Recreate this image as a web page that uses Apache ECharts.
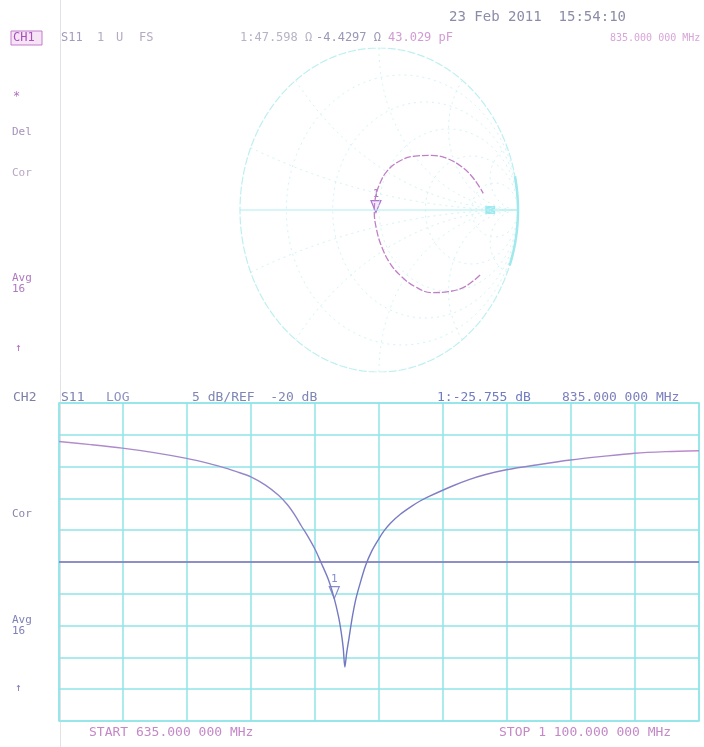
<!DOCTYPE html>
<html>
<head>
<meta charset="utf-8">
<script src="https://cdn.jsdelivr.net/npm/echarts@6/dist/echarts.min.js"></script>
<style>
  html, body { margin: 0; padding: 0; background: #fff; }
  #chart { width: 704px; height: 747px; }
</style>
</head>
<body>
<div id="chart"></div>
<script>
// CH2 log magnitude trace (MHz, dB)
const freqMHz = [635, 658, 681, 704, 727.7, 740, 752.4, 764, 774.4, 785, 794.5, 801, 806.6, 811, 815.6, 821, 825.2, 830.7, 835, 838.1, 840, 841.5, 842.7, 844, 845.7, 848, 850.5, 853.2, 857.7, 862.3, 867.4, 871, 875.8, 883, 890.8, 897, 904.3, 920.9, 932.9, 945, 960, 983, 1006.6, 1030, 1053.3, 1076, 1100];
const logMagDb = [-1.06, -1.55, -2.1, -2.8, -3.7, -4.3, -5.0, -5.8, -6.6, -7.9, -9.5, -11.0, -12.7, -14.3, -15.9, -18.0, -20.0, -22.75, -25.755, -28.6, -31.0, -33.5, -36.5, -34.3, -32.0, -28.8, -26.0, -23.8, -20.6, -18.25, -16.35, -15.15, -13.9, -12.5, -11.3, -10.45, -9.65, -8.05, -7.05, -6.25, -5.5, -4.7, -3.97, -3.4, -2.9, -2.65, -2.5];

// CH1 Smith trace, reflection coefficient
const gammaRe = [0.727, 0.619, 0.499, 0.379, 0.259, 0.163, 0.079, 0.019, -0.017, -0.034, -0.024, 0.007, 0.055, 0.139, 0.259, 0.379, 0.487, 0.595, 0.679, 0.750];
const gammaIm = [-0.401, -0.473, -0.504, -0.510, -0.473, -0.412, -0.329, -0.226, -0.123, -0.010, 0.082, 0.165, 0.237, 0.298, 0.333, 0.337, 0.319, 0.267, 0.196, 0.103];

// marker 1
const markerFreq = 835;
const markerDb = -25.755;
const markerGamma = [-0.022, -0.01];

// graticule
const smithR = [0.2, 0.5, 1, 2, 5];
const smithX = [0.2, 0.5, 1, 2, 5, -0.2, -0.5, -1, -2, -5];
const xDivs = 10;
const refDb = -20;
const yMin = -45, yMax = 5, yStep = 5;

const cyan = '#8fe4e8';
const faint = '#d2f4f5';

function gamma(r, x) {
  const d = (r + 1) * (r + 1) + x * x;
  return [(r * r + x * x - 1) / d, (2 * x) / d];
}
function rCircle(r) {
  const pts = [];
  for (let i = 0; i <= 200; i++) {
    const t = -Math.PI / 2 + 0.0005 + (Math.PI - 0.001) * i / 200;
    pts.push(gamma(r, Math.tan(t)));
  }
  pts.push([1, 0]);
  return pts;
}
function xArc(x) {
  const pts = [];
  for (let i = 0; i <= 150; i++) {
    const t = (Math.PI / 2 - 0.001) * i / 150;
    pts.push(gamma(Math.tan(t), x));
  }
  pts.push([1, 0]);
  return pts;
}
function arc(a0, a1) {
  const pts = [];
  for (let a = a0; a <= a1; a++) {
    pts.push([Math.cos(a * Math.PI / 180), Math.sin(a * Math.PI / 180)]);
  }
  return pts;
}

const smithGrid = [];
function gridLine(data, color, width, type) {
  smithGrid.push({
    type: 'line', xAxisIndex: 0, yAxisIndex: 0, data: data, showSymbol: false, silent: true,
    lineStyle: { color: color, width: width, type: type || 'solid' }
  });
}
smithR.forEach(r => gridLine(rCircle(r), faint, 1, [2, 4]));
smithX.forEach(x => gridLine(xArc(x), faint, 1, [2, 4]));
gridLine(arc(0, 360), '#bdeff1', 1.2, [8, 2]);
gridLine(arc(-20, 12), '#9fe8ec', 2.5);
gridLine([[-1, 0], [1, 0]], '#b0edf0', 1.2);

const font = '"DejaVu Sans Mono", monospace';
function txt(text, x, y, fill, size) {
  return { type: 'text', x: x, y: y, silent: true,
    style: { text: text, fill: fill, font: (size || 12) + 'px ' + font, verticalAlign: 'middle' } };
}

const chart = echarts.init(document.getElementById('chart'));
chart.setOption({
  backgroundColor: '#fff',
  animation: false,
  grid: [
    { left: 240, top: 48, width: 278, height: 324 },
    { left: 59, top: 403, width: 640, height: 318, show: true, borderColor: cyan, borderWidth: 1.5 }
  ],
  xAxis: [
    { gridIndex: 0, type: 'value', min: -1, max: 1, show: false },
    { gridIndex: 1, type: 'value', min: 0, max: xDivs, interval: 1,
      axisLine: { show: false }, axisTick: { show: false }, axisLabel: { show: false },
      splitLine: { show: true, lineStyle: { color: cyan, width: 1.5 } } },
    { gridIndex: 1, type: 'value', min: freqMHz[0], max: freqMHz[freqMHz.length - 1], show: false }
  ],
  yAxis: [
    { gridIndex: 0, type: 'value', min: -1, max: 1, show: false },
    { gridIndex: 1, type: 'value', min: yMin, max: yMax, interval: yStep,
      axisLine: { show: false }, axisTick: { show: false }, axisLabel: { show: false },
      splitLine: { show: true, lineStyle: { color: cyan, width: 1.5 } } }
  ],
  series: smithGrid.concat([
    {
      type: 'scatter', xAxisIndex: 0, yAxisIndex: 0, data: [[0.8, 0]], silent: true,
      symbol: 'rect', symbolSize: [10, 8], itemStyle: { color: '#7fe4ec' }
    },
    {
      type: 'line', xAxisIndex: 0, yAxisIndex: 0, silent: true, showSymbol: false, smooth: 0.4,
      data: gammaRe.map((v, i) => [v, gammaIm[i]]),
      lineStyle: { color: '#c07ec8', width: 1.3, type: [7, 2] }
    },
    {
      type: 'scatter', xAxisIndex: 0, yAxisIndex: 0, silent: true, data: [markerGamma],
      symbol: 'triangle', symbolRotate: 180, symbolSize: [10, 12], symbolOffset: [0, -5],
      itemStyle: { color: '#f3e3f6', borderColor: '#9158c0', borderWidth: 1.2 },
      label: { show: true, position: 'top', distance: 1, formatter: '1', color: '#8a5ab8', fontSize: 10, fontFamily: font }
    },
    {
      type: 'line', xAxisIndex: 2, yAxisIndex: 1, silent: true, showSymbol: false, smooth: 0.3,
      data: freqMHz.map((f, i) => [f, logMagDb[i]]),
      lineStyle: {
        width: 1.4,
        color: new echarts.graphic.LinearGradient(0, 0, 1, 0, [
          { offset: 0, color: '#b88ccb' },
          { offset: 0.35, color: '#8f86c8' },
          { offset: 0.45, color: '#6f78c2' },
          { offset: 0.55, color: '#7a7cc4' },
          { offset: 1, color: '#bf8ccc' }
        ])
      },
      markLine: {
        silent: true, symbol: 'none', label: { show: false },
        lineStyle: { color: '#8470b8', width: 1.6, type: 'solid' },
        data: [{ yAxis: refDb }]
      }
    },
    {
      type: 'scatter', xAxisIndex: 2, yAxisIndex: 1, silent: true, data: [[markerFreq, markerDb]],
      symbol: 'triangle', symbolRotate: 180, symbolSize: [10, 12], symbolOffset: [0, -6],
      itemStyle: { color: '#ffffff', borderColor: '#6670bd', borderWidth: 1.2 },
      label: { show: true, position: 'top', distance: 1, formatter: '1', color: '#6670bd', fontSize: 11, fontFamily: font }
    }
  ]),
  graphic: [
    { type: 'line', silent: true, shape: { x1: 60.5, y1: 0, x2: 60.5, y2: 747 }, style: { stroke: '#e2e2e6', lineWidth: 1 } },
    { type: 'rect', silent: true, shape: { x: 11, y: 31, width: 31, height: 14 }, style: { fill: '#f6e4f6', stroke: '#c27ccc', lineWidth: 1 } },
    txt('23 Feb 2011  15:54:10', 449, 17, '#8b8ca8', 14),
    txt('CH1', 13, 38, '#a650b8', 12),
    txt('S11', 61, 38, '#a39bbd', 12),
    txt('1', 97, 38, '#b3aac4', 12),
    txt('U', 116, 38, '#b3aac4', 12),
    txt('FS', 139, 38, '#b3aac4', 12),
    txt('1:47.598 \u03a9', 240, 38, '#b7b2c6', 12),
    txt('-4.4297 \u03a9', 316, 38, '#9a98b8', 12),
    txt('43.029 pF', 388, 38, '#d39ad4', 12),
    txt('835.000 000 MHz', 610, 38, '#d8a6d8', 10),
    txt('*', 13, 97, '#b070c0', 12),
    txt('Del', 12, 132, '#a890bc', 11),
    txt('Cor', 12, 173, '#b9a6c6', 11),
    txt('Avg', 12, 278, '#b078c0', 11),
    txt('16', 12, 289, '#b078c0', 11),
    txt('\u2191', 15, 348, '#b070c0', 11),
    txt('CH2', 13, 398, '#7d7fa6', 13),
    txt('S11', 61, 398, '#7d83b0', 13),
    txt('LOG', 106, 398, '#8c92c0', 13),
    txt('5 dB/REF  -20 dB', 192, 398, '#7f86b6', 13),
    txt('1:-25.755 dB', 437, 398, '#6f7cc0', 13),
    txt('835.000 000 MHz', 562, 398, '#7c80bc', 13),
    txt('Cor', 12, 514, '#8a84b0', 11),
    txt('Avg', 12, 620, '#7e82b6', 11),
    txt('16', 12, 631, '#7e82b6', 11),
    txt('\u2191', 15, 688, '#7c7cb6', 11),
    txt('START 635.000 000 MHz', 89, 733, '#c488c8', 13),
    txt('STOP 1 100.000 000 MHz', 499, 733, '#c488c8', 13)
  ]
});
</script>
</body>
</html>
